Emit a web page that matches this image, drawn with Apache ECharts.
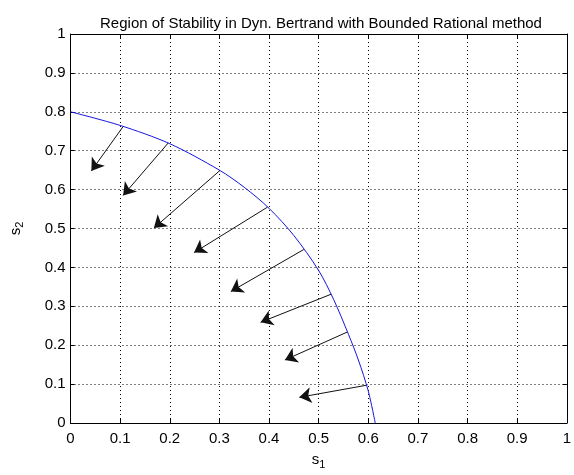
<!DOCTYPE html>
<html>
<head>
<meta charset="utf-8">
<script src="https://cdn.jsdelivr.net/npm/echarts@6/dist/echarts.min.js"></script>
<style>html,body{margin:0;padding:0;background:#fff;}#c{width:574px;height:475px;}</style>
</head>
<body>
<div id="c"></div>
<script>
const titleText = 'Region of Stability in Dyn. Bertrand with Bounded Rational method';
const tickValues = [0, 0.1, 0.2, 0.3, 0.4, 0.5, 0.6, 0.7, 0.8, 0.9, 1];
const curveX = [0, 0.1, 0.2, 0.3, 0.35, 0.4, 0.45, 0.5, 0.53, 0.56, 0.58, 0.6, 0.614];
const curveY = [0.8, 0.765, 0.718, 0.650, 0.606, 0.552, 0.482, 0.392, 0.318, 0.228, 0.162, 0.082, 0];
const arrowStartX = [0.106, 0.197, 0.301, 0.397, 0.470, 0.525, 0.558, 0.596];
const arrowStartY = [0.762, 0.720, 0.649, 0.555, 0.446, 0.331, 0.234, 0.097];
const arrowEndX = [0.042, 0.106, 0.168, 0.249, 0.323, 0.383, 0.432, 0.461];
const arrowEndY = [0.648, 0.585, 0.501, 0.438, 0.338, 0.259, 0.162, 0.066];

const FONT = '"Liberation Sans", Arial, sans-serif';
const chart = echarts.init(document.getElementById('c'), null, {renderer: 'canvas'});

const curveData = curveX.map((x, i) => [x, curveY[i]]);
const arrowData = arrowStartX.map((x, i) => ({coords: [[x, arrowStartY[i]], [arrowEndX[i], arrowEndY[i]]]}));

function fmt(v) { const r = Math.round(v * 10) / 10; return tickValues.indexOf(r) >= 0 ? String(r) : ''; }

const axisCommon = {
  type: 'value', min: 0, max: 1, interval: 0.1,
  axisLine: {show: true, onZero: false, lineStyle: {color: '#000', width: 1}},
  axisTick: {show: true, inside: true, length: 4, lineStyle: {color: '#000'}},
};
const subRich = {sub: {fontFamily: FONT, fontSize: 11, color: '#000', verticalAlign: 'bottom', padding: [9, 0, 0, 0]}};

chart.setOption({
  animation: false,
  backgroundColor: '#fff',
  title: {
    text: titleText, left: 316, top: 11, textAlign: 'center',
    textStyle: {fontFamily: FONT, fontSize: 15, fontWeight: 'normal', color: '#000'}
  },
  grid: {left: 65, right: 7, top: 34, bottom: 45, containLabel: false},
  xAxis: [
    Object.assign({}, axisCommon, {
      position: 'bottom',
      name: 's{sub|1}', nameLocation: 'middle', nameGap: 27,
      nameTextStyle: {fontFamily: FONT, fontSize: 15, color: '#000', rich: subRich},
      axisLabel: {fontFamily: FONT, fontSize: 15, color: '#000', margin: 8, formatter: fmt},
      splitLine: {show: true, lineStyle: {color: '#000', width: 1, type: [1, 3]}}
    }),
    Object.assign({}, axisCommon, {
      position: 'top', axisLabel: {show: false}, splitLine: {show: false}
    })
  ],
  yAxis: [
    Object.assign({}, axisCommon, {
      position: 'left',
      name: 's{sub|2}', nameLocation: 'middle', nameGap: 45, nameRotate: 90,
      nameTextStyle: {fontFamily: FONT, fontSize: 15, color: '#000', rich: subRich},
      axisLabel: {fontFamily: FONT, fontSize: 15, color: '#000', margin: 5, formatter: fmt},
      splitLine: {show: true, lineStyle: {color: '#000', width: 1, type: [1, 3]}}
    }),
    Object.assign({}, axisCommon, {
      position: 'right', axisLabel: {show: false}, splitLine: {show: false}
    })
  ],
  series: [
    {
      type: 'line', xAxisIndex: 0, yAxisIndex: 0,
      data: curveData, showSymbol: false, smooth: 0.3,
      lineStyle: {color: '#1515e0', width: 1}
    },
    {
      type: 'lines', coordinateSystem: 'cartesian2d', xAxisIndex: 0, yAxisIndex: 0,
      data: arrowData,
      symbol: ['none', 'arrow'], symbolSize: 12,
      lineStyle: {color: '#111', width: 1, opacity: 1, curveness: 0}
    }
  ]
});
</script>
</body>
</html>
